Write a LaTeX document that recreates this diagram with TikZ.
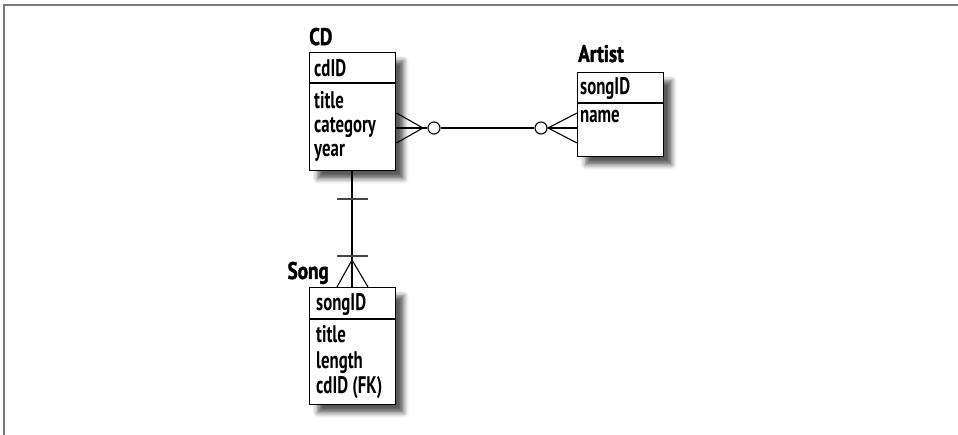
\documentclass[tikz,border=0pt]{standalone}
\usepackage{fontspec}
\setmainfont{PT Sans Bold}[FakeStretch=0.7]
\newfontfamily\headfont{PT Sans Bold}[FakeStretch=0.8, FakeBold=1.5]
\usetikzlibrary{shadows.blur}
\definecolor{framegray}{HTML}{7A7A7A}
\definecolor{tickgray}{HTML}{444444}
\tikzset{
  entity/.style={draw=black, line width=1.4pt, fill=white, rectangle, inner sep=0pt,
    anchor=north west,
    blur shadow={shadow xshift=8pt, shadow yshift=-8pt, shadow blur radius=5pt,
      shadow opacity=65}},
  field/.style={anchor=base west, inner sep=0pt, font=\fontsize{24}{26}\selectfont},
  title/.style={inner sep=0pt, font=\headfont\fontsize{24}{26}\selectfont},
  rel/.style={line width=1.1pt, black},
  sep/.style={line width=1.2pt, black},
  tick/.style={line width=1.8pt, tickgray},
  zero/.style={circle, draw=black, line width=1.1pt, fill=white, minimum size=12pt, inner sep=0pt}
}
\begin{document}
\begin{tikzpicture}[x=1pt, y=-1pt]
\useasboundingbox (0,0) rectangle (958,435);
% frame: top and left edges only
\draw[framegray, line width=2pt] (4,435) -- (4,5) -- (958,5);

% CD entity
\node[entity, minimum width=86pt, minimum height=118pt] (cd) at (309,52) {};
\draw[sep] (cd.north west |- 0,83) -- (cd.north east |- 0,83);
\node[title, anchor=base west] (cdtitle) at (309,45) {CD};
\node[field] (cdid) at (314,77) {cdID};
\node[field] (cdtitlef) at (314,109) {title};
\node[field] (cdcat) at (314,133) {category};
\node[field] (cdyear) at (314,157) {year};

% Artist entity
\node[entity, minimum width=86pt, minimum height=84pt] (artist) at (577,72) {};
\draw[sep] (artist.north west |- 0,103) -- (artist.north east |- 0,103);
\node[title, anchor=base west] (artisttitle) at (578,62) {Artist};
\node[field] (artsong) at (580,95) {songID};
\node[field] (artname) at (580,123) {name};

% Song entity
\node[entity, minimum width=86pt, minimum height=117pt] (song) at (309,287) {};
\draw[sep] (song.north west |- 0,319) -- (song.north east |- 0,319);
\node[title, anchor=base east] (songtitle) at (329,279) {Song};
\node[field] (songid) at (316,311) {songID};
\node[field] (songt) at (316,343) {title};
\node[field] (songlen) at (316,368) {length};
\node[field] (songfk) at (316,393) {cdID (FK)};

% CD -- Artist: zero-or-many on both ends
\coordinate (cdapex) at (423,128);
\coordinate (artapex) at (548,128);
\node[zero] (cdzero) at (434,128) {};
\node[zero] (artzero) at (541,128) {};
\draw[rel] (cd.east |- 0,113) -- (cdapex) -- (cd.east |- 0,143);
\draw[rel] (cd.east |- 0,128) -- (cdzero.west);
\draw[rel] (cdzero.east) -- (artzero.west);
\draw[rel] (artzero.east) -- (artist.west |- 0,128);
\draw[rel] (artist.west |- 0,113) -- (artapex) -- (artist.west |- 0,143);

% CD -- Song: exactly one to one-or-many
\coordinate (songapex) at (352,260);
\draw[rel] (cd.south -| 352,0) -- (song.north -| 352,0);
\draw[rel] (337,287) -- (songapex) -- (368,287);
\draw[tick] (337,199) -- (368,199);
\draw[tick] (337,256) -- (368,256);
\end{tikzpicture}
\end{document}
